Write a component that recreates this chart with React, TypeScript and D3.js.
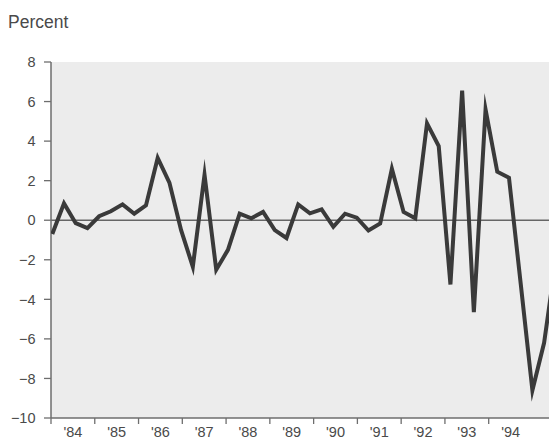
import React from "react";
import * as d3 from "d3";

const values: number[] = [
  -0.7, 0.85, -0.15, -0.4, 0.2, 0.45, 0.8, 0.33, 0.75, 3.15,
  1.9, -0.5, -2.35, 2.3, -2.5, -1.5, 0.33, 0.1, 0.42, -0.5,
  -0.9, 0.8, 0.35, 0.55, -0.33, 0.33, 0.13, -0.52, -0.17, 2.6,
  0.42, 0.1, 4.9, 3.75, -3.25, 6.55, -4.65, 5.6, 2.45, 2.15,
  -3.2, -8.6, -6.2, -2.0,
];
const years: number[] = [1984, 1985, 1986, 1987, 1988, 1989, 1990, 1991, 1992, 1993, 1994];
const yearLabels: string[] = ["'84", "'85", "'86", "'87", "'88", "'89", "'90", "'91", "'92", "'93", "'94"];
const yTicks: number[] = [8, 6, 4, 2, 0, -2, -4, -6, -8, -10];

const W = 549;
const H = 437;
const left = 51;
const top = 62;
const bottom = 418;

export default function App() {
  const y = d3.scaleLinear().domain([-10, 8]).range([bottom, top]);
  const xi = d3.scaleLinear().domain([0, 41]).range([52.3, 532.4]);
  const xy = d3.scaleLinear().domain([1984, 1994]).range([left, left + 437.7]);
  const line = d3
    .line<number>()
    .x((_, i) => xi(i))
    .y((d) => y(d));
  const fmt = (v: number) => (v < 0 ? "\u2212" + Math.abs(v) : String(v));
  const txt = "#4a4a4a";
  const axis = "#6e6e6e";
  return (
    <svg
      width={W}
      height={H}
      style={{ position: "fixed", left: 0, top: 0, background: "#fff" }}
      fontFamily="'Liberation Sans', Arial, Helvetica, sans-serif"
    >
      <defs>
        <clipPath id="plot">
          <rect x={left} y={top - 10} width={W - left} height={bottom - top + 10} />
        </clipPath>
      </defs>
      <text x={8} y={28} fontSize={17.5} fill={txt}>Percent</text>
      <rect x={left} y={top} width={W - left} height={bottom - top} fill="#ececec" />
      {/* zero line */}
      <line x1={left} x2={W} y1={y(0)} y2={y(0)} stroke="#666" strokeWidth={1.5} />
      {/* y axis */}
      <line x1={left} x2={left} y1={top} y2={bottom} stroke={axis} strokeWidth={1.5} />
      {yTicks.map((t) => (
        <g key={t}>
          <line x1={left - 7} x2={left} y1={y(t)} y2={y(t)} stroke={axis} strokeWidth={1.3} />
          <text x={35.5} y={y(t)} dy="0.36em" textAnchor="end" fontSize={14.5} fill={txt}>
            {fmt(t)}
          </text>
        </g>
      ))}
      {/* x axis */}
      <line x1={left} x2={W} y1={bottom} y2={bottom} stroke={axis} strokeWidth={1.5} />
      {years.map((yr, i) => (
        <g key={yr}>
          <line x1={xy(yr)} x2={xy(yr)} y1={bottom} y2={bottom + 6} stroke={axis} strokeWidth={1.3} />
          <text x={xy(yr + 0.5)} y={437} textAnchor="middle" fontSize={14.5} fill={txt}>
            {yearLabels[i]}
          </text>
        </g>
      ))}
      <path
        d={line(values) || ""}
        fill="none"
        stroke="#3a3a3a"
        strokeWidth={4}
        strokeLinejoin="miter"
        strokeMiterlimit={10}
        clipPath="url(#plot)"
      />
    </svg>
  );
}
